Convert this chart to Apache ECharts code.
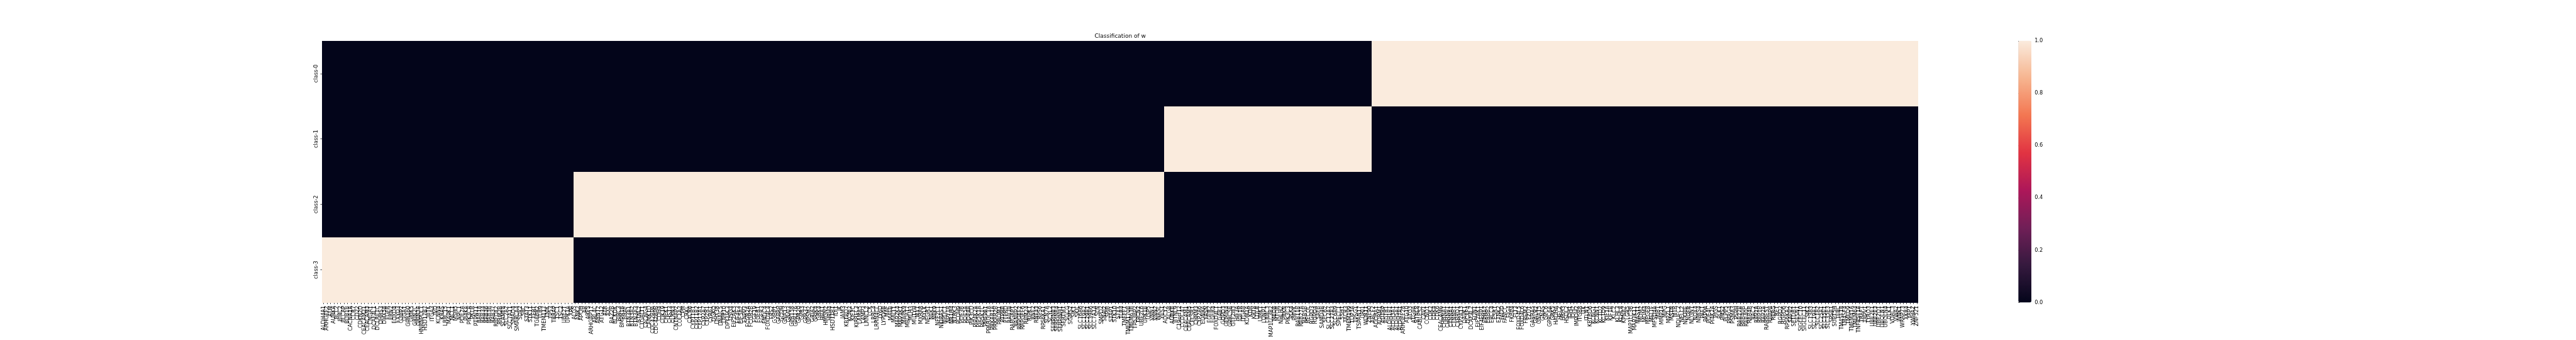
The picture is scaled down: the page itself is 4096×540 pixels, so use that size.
<!DOCTYPE html>
<html><head><meta charset="utf-8">
<script src="https://cdn.jsdelivr.net/npm/echarts@6/dist/echarts.min.js"></script>
<style>html,body{margin:0;padding:0;background:#fff}#c{width:4096px;height:540px}</style>
</head><body><div id="c"></div>
<script>
const chartTitle = 'Classification of w';
const classes = ['class-0', 'class-1', 'class-2', 'class-3'];
const class3Genes = ['ALDH4A1','ARHGEF2','ATM','AURKA','BCL2','BIRC2','BLCAP','BUB1B','CACNA1A','CCR7','CD22','CDKN2D','CEACAM21','CEACAM3','CNGA1','DCAF4L1','DCLRE1C','DHRS3','DHX58','EGFR','ERN2','FOXD4','FXYD3','G3BP2','GGA1','GPR160','GRIK5','GRIN2C','GRIN3A','HNRNPUL1','HSD17B7','IBTK','ITGA3','IVD','KCNN4','KRAS','LRRC15','MAPK1','MCL1','MSH5','NPC1','PDE2A','PI4KA','PIK3CA','PKLR','PTPN11','RAB18','RAB34','RAB36','RAB3B','RAB37','RBFOX2','RRM2B','SLAMF8','SLC2A2','SLC7A11','SMAD4','SMARCA4','SOX2','SRC','STAT3','STK11','TERT','TGFBR2','TLR9','TMEM117','TNIK','TP53','TRRAP','TSC1','TSC2','UBE2T','UPK1A','XPA'];
const class2Genes = ['ALG5','ANK2','APOH','AR','ARF5','ARHGAP17','ARL4C','ARNT2','ATG12','ATR','AXL','BAZ2B','BCKDK','BIRC3','BMPR1B','BRAF','BTN3A1','BTN3A2','BTN3A3','BTNL2','C1GALT1','CACNG4','CAMK1D','CDC42BPA','CDC42BPB','CDH4','CDK19','CHEK1','CHST3','CLRN3','CNTNAP2','COL1A2','CPM','CRKL','CXCR6','CYP11B1','CYP11B2','CYP17A1','CYP2A7','CYP2R1','CYR61','DGKQ','DHX38','DNAJC5','DPP10','DPY19L3','DSG3','EIF2AK3','EIF4E3','EIF5A2','ENPP3','FCGR2A','FCGR2B','FGF19','FGFR1','FGFR3','FNDC4','FOXD4L4','FRS2','G3BP1','GABRP','GCDH','GNA13','GNAI3','GPR158','GPR176','GPR20','GPR3','GPR37','GPSM2','GRIA2','GRIK4','GRK4','HBA1','HMGN2','HRH4','HSD11B1','IDI1','IK','JAM3','KBTBD7','KCNJ2','KIF1C','KIRREL3','LAMA5','LAMP3','LANCL2','LCK','LRRC4','LRRN4CL','LY6D','LYPD6B','MAF','MAFB','MALT1','MAP2K4','MAP3K1','MAPK9','MBOAT7','MLH3','MUTYH','MX1','MXRA8','MYLK','NEGR1','NEK1','NEK9','NFE2L1','NKIRAS1','NPDC1','NPY1R','NR1H4','NTRK3','PCDH9','PDE3B','PDE5A','PDE8A','PIK3CD','PIP4K2A','PIP5K1A','PIP5K1C','PMEPA1','PPARGC1A','PRKAR1A','PRKAR2B','PROM1','PTPRB','PTPRD','RAB38','RABGAP1','RANBP2','RAPGEF2','RAPGEF6','RBM24','RIPK1','RNF2','RNF43','RPS6','RPS6KA1','SCN7A','SCYL2','SERPINB3','SERPINB4','SERPINH1','SERTM1','SGCG','SGMS2','SIK1','SKIL','SLC16A6','SLC19A2','SLC29A1','SLC39A6','SLC7A14','SLN','SMPD2','SNAI2','SPIB','STAP1','STK10','STYX','TLR4','TMEFF1','TMEM170B','TMEM63B','TP53BP2','TPCN2','UBE2L6','UPK1B','USP5','VNN1','VNN2','WASL','YES1'];
const class1Genes = ['ADCY2','ALG8','AURKB','BTNL9','C19orf12','CCDC47','CEACAM1','CEACAM5','CELSR1','CHRM3','CYP2A6','EDNRA','FASN','FGFR2','FGFR4','FOXD4L1','GAB1','GDPD3','GEMIN4','GPRC5B','GTF2H3','HIF3A','IGF1R','ITGA8','KDM1A','KDR','KRT8','LDLR','LIMK1','LONP1','LRRC3','MAP1LC3B2','MED8','MTOR','NHLH2','PRKN','PIK3C3','PLK4','PMVK','RAB11B','RAB27A','RAB5B','RECQL','RGPD3','RGPD4','SAFB','SAMD4B','SEC62','SLC12A7','SLC27A3','SLC6A9','SPECC1','SSH1','TACR3','TMEM199','TOP3A','TPSG1','TSPAN17','URI1','WDR11','ZNF90'];
const class0Genes = ['ABCF2','ADORA1','ADRM1','ADTRP','AGTR1','ALDH1B1','ALDH3A1','ALDH5A1','ALDH7A1','ARHGEF28','ATG10','ATG3','ATG9A','BTNL8','CABLES2','CAV1','CCND1','CDK2','CDK4','CDK6','CEACAM6','CHRNA1','CHRNB1','CTNNA1','CTNNB1','CYBRD1','CYP2A13','DAPK1','DCAF4','DCAF4L2','EDN1','EIF2AK1','EIF4EBP1','EPHA7','ERBB2','ERCC4','ESR1','ETNK2','FADD','FANCC','FIG4','FKBP4','FLT3','FOXD4L5','FOXD4L6','FREM2','FZD1','GABRA5','GALR2','GNA15','GNAS','GPC6','GPRC6A','GRK5','HADHA','HELZ','HRH3','HSDL2','IDH1','IDH2','IMPDH2','ITGB8','ITK','ITLN1','KBTBD6','KCNG1','KCNN1','KCTD2','KCTD9','KIF1A','KIF1B','KLC2','KLHL3','KLHL8','KPNA2','LGR5','MAP1LC3B','MAP3K11','MAST1','MDM2','MDM4','MEGF8','MELTF','MFSD4A','MIB1','MMP14','MPG','MPZL1','MSTN','MTR','NDUFC2','NELL2','NFKBIE','NGFR','NLGN1','NOX4','NPAS4','PAF1','PAPPA','PDE4C','PI4K2A','PIGS','PLK1','PMS2','PLPP5','PRRG4','PSMA3','PSPH','RAB27B','RAB40B','RAB40C','RAB4B','RAC2','RAP1A','RAP1B','RAP2A','RARRES1','RBBP8','RERG','RET','RGPD2','RGPD6','RPS6KA2','SAFB2','SETDB1','SESN1','SIGLEC10','SIGLEC11','SIK2','SLC13A3','SLC19A1','SLC1A2','SLC25A1','SLC35E1','SLC35E3','SPSB1','SUPT5H','TFRC','TM4SF18','TM4SF4','TMED9','TMEM41A','TMEM64','TNFRSF1A','TRAF1','TRPV1','TYRO3','UBE2E1','UBE2E3','UBE2Q1','UBQLN1','UBQLN4','ULK1','VDAC3','VWA2','WNK1','WRAP73','XKR4','YAP1','YWHAZ','ZNF521'];
const colorbarTicks = [0, 0.2, 0.4, 0.6, 0.8, 1.0];
const rocketColors = ['#03051a','#35193e','#701f57','#ad1759','#e13342','#f37651','#f6b48f','#faebdd'];

const S = 0.54;
const FONT = '"DejaVu Sans", sans-serif';
const groups = [[class3Genes, 'class-3'], [class2Genes, 'class-2'], [class1Genes, 'class-1'], [class0Genes, 'class-0']];
const genes = [];
const cells = [];
groups.forEach(([list, cls]) => {
  list.forEach(g => {
    const col = genes.length;
    genes.push(g);
    classes.forEach((c, r) => cells.push([col, r, c === cls ? 1 : 0]));
  });
});

const gx = 948 * S, gy = 120 * S, gw = (5649 - 948) * S, gh = (890 - 120) * S;
const cbx = 5943 * S, cbw = 38.5 * S;
const fs = 15.3 * S;
const tickLen = 4.6 * S;
const labMargin = 9.5 * S;

// heatmap cell drawn through the axes' scales, edges snapped to whole pixels so neighbours meet exactly
function renderCell(params, api) {
  const c = api.coord([api.value(0), api.value(1)]);
  const sz = api.size([1, 1]);
  const x0 = Math.round(c[0] - sz[0] / 2), x1 = Math.round(c[0] + sz[0] / 2);
  const y0 = Math.round(c[1] - sz[1] / 2), y1 = Math.round(c[1] + sz[1] / 2);
  return {type: 'rect', shape: {x: x0, y: y0, width: x1 - x0, height: y1 - y0},
          style: {fill: api.visual('color'), stroke: null, lineWidth: 0}};
}

const chart = echarts.init(document.getElementById('c'), null, {renderer: 'canvas'});
chart.setOption({
  backgroundColor: '#ffffff',
  animation: false,
  grid: [
    {left: gx, top: gy, width: gw, height: gh, containLabel: false, outerBoundsMode: 'none'},
    {left: cbx, top: gy, width: cbw, height: gh, containLabel: false, outerBoundsMode: 'none'}
  ],
  xAxis: [
    {type: 'category', gridIndex: 0, data: genes, boundaryGap: true,
     axisLine: {show: false}, splitLine: {show: false},
     axisTick: {show: true, alignWithLabel: true, interval: 0, length: tickLen, lineStyle: {color: '#000', width: 0.7}},
     axisLabel: {interval: 0, rotate: 90, margin: labMargin, fontSize: fs, fontFamily: FONT, color: '#000'}},
    {type: 'value', gridIndex: 1, show: false, min: 0, max: 1}
  ],
  yAxis: [
    {type: 'category', gridIndex: 0, data: classes, inverse: true, boundaryGap: true,
     axisLine: {show: false}, splitLine: {show: false},
     axisTick: {show: true, alignWithLabel: true, length: tickLen, lineStyle: {color: '#000', width: 0.7}},
     axisLabel: {rotate: 90, margin: labMargin, fontSize: fs, fontFamily: FONT, color: '#000'}},
    {type: 'value', gridIndex: 1, position: 'right', min: 0, max: 1, interval: 0.2,
     axisLine: {show: false}, splitLine: {show: false},
     axisTick: {show: true, length: tickLen, lineStyle: {color: '#000', width: 0.7}},
     axisLabel: {margin: labMargin, fontSize: fs, fontFamily: FONT, color: '#000',
       formatter: v => colorbarTicks.some(t => Math.abs(t - v) < 1e-9) ? v.toFixed(1) : ''}}
  ],
  visualMap: {
    type: 'continuous', min: 0, max: 1, dimension: 2, orient: 'vertical', seriesIndex: 0,
    left: cbx, top: gy, itemWidth: cbw, itemHeight: gh, padding: 0,
    calculable: false, showLabel: false, text: null, hoverLink: false,
    inRange: {color: rocketColors}
  },
  graphic: [{
    type: 'text', x: gx + gw / 2, y: gy - 6 * 100 / 72 * S + 1.8,
    style: {text: chartTitle, font: (16.67 * S).toFixed(2) + 'px ' + FONT, fill: '#000', align: 'center', verticalAlign: 'bottom'}
  }],
  series: [{
    type: 'custom', xAxisIndex: 0, yAxisIndex: 0, data: cells,
    encode: {x: 0, y: 1}, renderItem: renderCell, silent: true
  }]
});
</script></body></html>
